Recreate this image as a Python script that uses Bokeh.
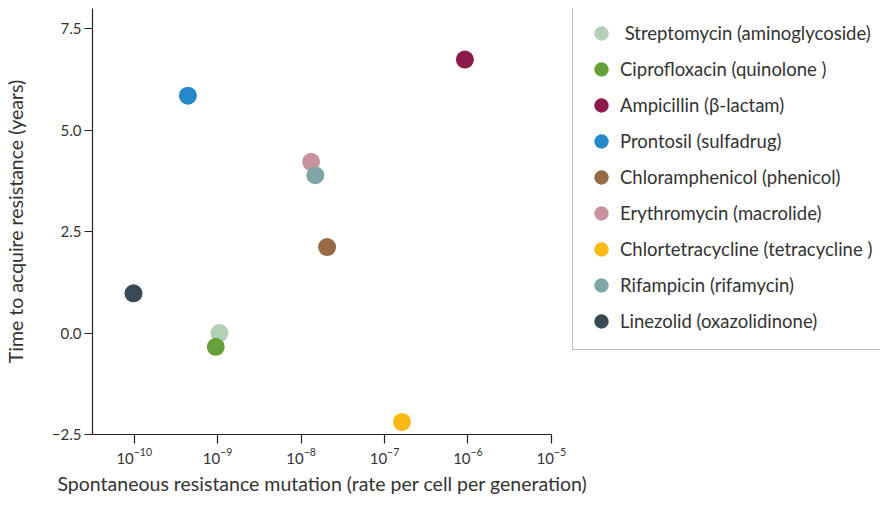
from bokeh.plotting import figure
from bokeh.models import (ColumnDataSource, Legend, LegendItem, Range1d,
                          FixedTicker, CustomJSTickFormatter, Title)
from bokeh.embed import file_html
from bokeh.resources import INLINE

names = [" Streptomycin (aminoglycoside)", "Ciprofloxacin (quinolone )",
         "Ampicillin (\u03b2-lactam)", "Prontosil (sulfadrug)",
         "Chloramphenicol (phenicol)", "Erythromycin (macrolide)",
         "Chlortetracycline (tetracycline )", "Rifampicin (rifamycin)",
         "Linezolid (oxazolidinone)"]
rate = [1.05e-9, 0.95e-9, 9.2e-7, 4.4e-10, 2.05e-8, 1.32e-8, 1.62e-7, 1.48e-8, 0.98e-10]
years = [0.0, -0.34, 6.74, 5.85, 2.12, 4.22, -2.19, 3.89, 0.98]
colors = ["#b3cfb5", "#67a03b", "#8c1a4b", "#2589c9", "#966a44",
          "#c8939e", "#fdb913", "#7fa6a5", "#3a4a55"]
x_ticks = [1e-10, 1e-9, 1e-8, 1e-7, 1e-6, 1e-5]
y_ticks = [-2.5, 0.0, 2.5, 5.0, 7.5]
x_label = "Spontaneous resistance mutation (rate per cell per generation)"
y_label = "Time to acquire resistance (years)"

src = ColumnDataSource(dict(x=rate, y=years, c=colors, n=names))

W, H = 880, 497
LEFT, TOP, BOTTOM = 78, 8, 63
FRAME_H = H - TOP - BOTTOM
decade_px = 467 / 5.5
x_lo = -10.5
x_hi = x_lo + (W - LEFT) / decade_px

p = figure(width=W, height=H, x_axis_type="log",
           x_range=Range1d(10 ** x_lo, 10 ** x_hi), y_range=Range1d(-2.5, 8.0),
           output_backend="svg", toolbar_location=None,
           min_border_left=LEFT, min_border_right=0,
           min_border_top=TOP, min_border_bottom=BOTTOM)
p.outline_line_color = None
p.grid.visible = False
p.background_fill_color = "white"
p.border_fill_color = "white"

r = p.scatter("x", "y", source=src, size=18, fill_color="c", line_color="c",
              line_width=0)

font = "Lato"
txt = "#333333"
for ax in (p.xaxis[0], p.yaxis[0]):
    ax.axis_line_color = "#222222"
    ax.axis_line_width = 1.2
    ax.major_tick_line_color = "#222222"
    ax.major_tick_line_width = 1.2
    ax.major_tick_in = 0
    ax.minor_tick_line_color = None
    ax.major_label_text_font = font
    ax.major_label_text_font_size = "15px"
    ax.major_label_text_color = txt
    ax.axis_label_text_font = font
    ax.axis_label_text_font_size = "19.5px"
    ax.axis_label_text_font_style = "normal"
    ax.axis_label_text_color = txt

p.xaxis.ticker = FixedTicker(ticks=x_ticks)
p.xaxis.bounds = (10 ** x_lo, 1e-5)
p.xaxis.major_tick_out = 9
p.xaxis.major_label_standoff = 4

p.add_layout(Title(text=x_label, align="left", offset=-35, standoff=6,
                   vertical_align="bottom", text_font=font,
                   text_font_size="19.5px", text_font_style="normal",
                   text_color=txt), "below")

p.yaxis.ticker = FixedTicker(ticks=y_ticks)
p.yaxis.formatter = CustomJSTickFormatter(code="return tick.toFixed(1).replace('-', '\u2212');")
p.yaxis.major_tick_out = 8
p.yaxis.major_label_standoff = 3
p.yaxis.axis_label = y_label
p.yaxis.axis_label_standoff = 22

items = [LegendItem(label=names[i], renderers=[r], index=i) for i in range(len(names))]
legend = Legend(items=items, location=(480, FRAME_H - 342), orientation="vertical",
                glyph_width=36, glyph_height=36, label_height=36, spacing=0,
                padding=10, margin=0, label_standoff=1,
                label_text_font=font, label_text_font_size="18.5px",
                label_text_color=txt, border_line_color="#7a7a7a",
                border_line_width=1.5, background_fill_color="white",
                background_fill_alpha=1.0)
p.add_layout(legend, "center")

open("out.html", "w").write(file_html(p, INLINE))
